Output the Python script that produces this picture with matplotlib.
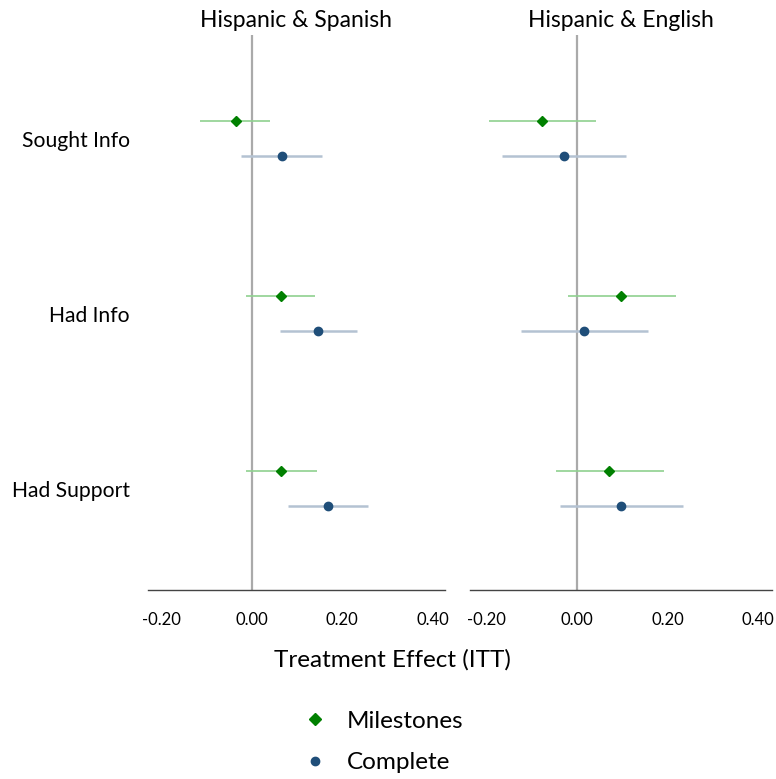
import matplotlib
matplotlib.use("Agg")
import matplotlib.pyplot as plt
from matplotlib.lines import Line2D
import numpy as np

plt.rcParams['font.family'] = ['Lato', 'DejaVu Sans']
plt.rcParams['axes.unicode_minus'] = False

# data
outcomes = ["Sought Info", "Had Info", "Had Support"]
panels = ["Hispanic & Spanish", "Hispanic & English"]

# Hispanic & Spanish
sp_mile = [-0.036, 0.064, 0.064]
sp_mile_lo = [-0.115, -0.013, -0.013]
sp_mile_hi = [0.041, 0.139, 0.143]
sp_comp = [0.066, 0.147, 0.168]
sp_comp_lo = [-0.024, 0.063, 0.080]
sp_comp_hi = [0.156, 0.233, 0.256]

# Hispanic & English
en_mile = [-0.077, 0.097, 0.071]
en_mile_lo = [-0.194, -0.021, -0.046]
en_mile_hi = [0.041, 0.218, 0.192]
en_comp = [-0.030, 0.015, 0.097]
en_comp_lo = [-0.166, -0.125, -0.039]
en_comp_hi = [0.108, 0.157, 0.233]

ticks = [-0.2, 0.0, 0.2, 0.4]

green = "#008000"
green_ci = "#8fd18f"
navy = "#1f4e79"
navy_ci = "#b4c2d2"

fig = plt.figure(figsize=(7.76, 7.79), dpi=100)
ax1 = fig.add_axes([0.1907, 0.2426, 0.3827, 0.7125])
ax2 = fig.add_axes([0.6057, 0.2426, 0.3892, 0.7125])

data = [
    (sp_mile, sp_mile_lo, sp_mile_hi, sp_comp, sp_comp_lo, sp_comp_hi),
    (en_mile, en_mile_lo, en_mile_hi, en_comp, en_comp_lo, en_comp_hi),
]
xlims = [(-0.230, 0.427), (-0.237, 0.431)]

ypos = np.arange(len(outcomes))
off = 0.1

for ax, title, d, xl in zip([ax1, ax2], panels, data, xlims):
    m, mlo, mhi, c, clo, chi = d
    ax.axvline(0, color="#aaaaaa", lw=1.6, zorder=1)
    ax.hlines(ypos - off, mlo, mhi, color=green_ci, lw=1.2, zorder=2)
    ax.hlines(ypos + off, clo, chi, color=navy_ci, lw=1.8, zorder=2)
    ax.plot(m, ypos - off, 'D', color=green, ms=5.5, zorder=3, ls='none')
    ax.plot(c, ypos + off, 'o', color=navy, ms=6, zorder=3, ls='none')
    ax.set_xlim(*xl)
    ax.set_ylim(2.58, -0.59)
    ax.set_xticks(ticks)
    ax.set_xticklabels([f"{t:.2f}" for t in ticks], fontsize=12)
    ax.tick_params(axis='x', length=0, pad=16)
    ax.set_yticks([])
    for s in ['top', 'right', 'left']:
        ax.spines[s].set_visible(False)
    ax.spines['bottom'].set_color("#444444")
    ax.spines['bottom'].set_linewidth(1.0)
    ax.set_title(title, fontsize=16.5, pad=6)

for y, name in zip(ypos, outcomes):
    ax1.text(-0.27, y + 0.015, name, ha='right', va='center', fontsize=15.2)

fig.text(392 / 776, 1 - 660 / 779, "Treatment Effect (ITT)", ha='center',
         va='center', fontsize=17.5)

handles = [
    Line2D([], [], marker='D', color=green, ls='none', ms=6),
    Line2D([], [], marker='o', color=navy, ls='none', ms=6),
]
fig.legend(handles, ["Milestones", "Complete"], loc='center',
           bbox_to_anchor=(383 / 776, 1 - 742 / 779), frameon=False,
           fontsize=17.5, handlelength=1.0, handletextpad=0.8,
           labelspacing=0.85)

fig.savefig("out.png", dpi=100)
